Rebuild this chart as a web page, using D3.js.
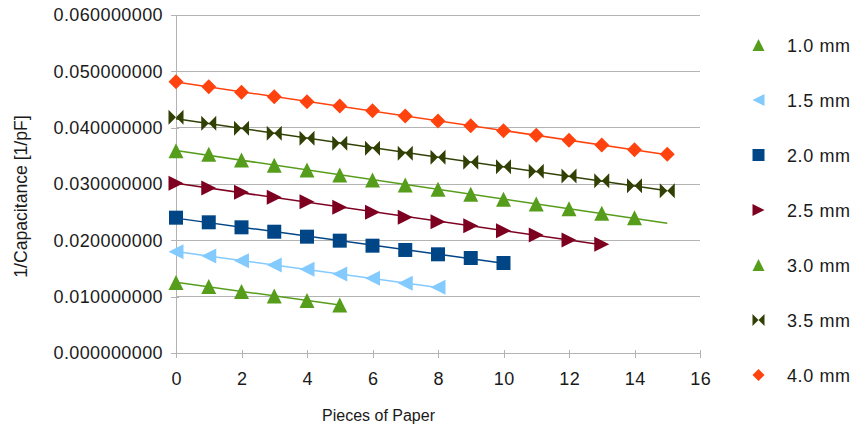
<!DOCTYPE html>
<html>
<head>
<meta charset="utf-8">
<script src="https://cdn.jsdelivr.net/npm/d3@7"></script>
<style>
  html, body { margin: 0; padding: 0; background: #fff; }
  svg { display: block; font-family: "Liberation Sans", Arial, sans-serif; }
</style>
</head>
<body>
<svg id="chart" width="852" height="427"></svg>
<script>
// ---------- data ----------
const seriesNames = ["1.0 mm", "1.5 mm", "2.0 mm", "2.5 mm", "3.0 mm", "3.5 mm", "4.0 mm"];
const seriesColors = ["#579d1c", "#83caff", "#004586", "#7e0021", "#579d1c", "#314004", "#ff420e"];
const seriesMarkers = ["triangleUp", "triangleLeft", "square", "triangleRight", "triangleUp", "bowtie", "diamond"];

const s10 = [0.01252, 0.01181, 0.01092, 0.01012, 0.00932, 0.00852];
const s15 = [0.01798, 0.01722, 0.01639, 0.01562, 0.01486, 0.01402, 0.01326, 0.01238, 0.01166];
const s20 = [0.02402, 0.02320, 0.02231, 0.02153, 0.02065, 0.01994, 0.01905, 0.01829, 0.01752, 0.01686, 0.01598];
const s25 = [0.03012, 0.02929, 0.02852, 0.02763, 0.02687, 0.02587, 0.02499, 0.02410, 0.02332, 0.02260, 0.02172, 0.02095, 0.02006, 0.01930];
const s30 = [0.03591, 0.03527, 0.03426, 0.03332, 0.03249, 0.03160, 0.03071, 0.02982, 0.02906, 0.02817, 0.02729, 0.02645, 0.02562, 0.02481, 0.02402];
const s35 = [0.04183, 0.04077, 0.03988, 0.03900, 0.03811, 0.03722, 0.03633, 0.03545, 0.03473, 0.03385, 0.03307, 0.03225, 0.03142, 0.03059, 0.02970, 0.02881];
const s40 = [0.04816, 0.04728, 0.04628, 0.04550, 0.04461, 0.04385, 0.04301, 0.04207, 0.04118, 0.04035, 0.03946, 0.03864, 0.03776, 0.03692, 0.03609, 0.03527];
const seriesValues = [s10, s15, s20, s25, s30, s35, s40];
// trend line extent (pieces of paper)
const trendEnd = [5, 8, 10, 13, 15, 15, 15];

const xTicks = [0, 2, 4, 6, 8, 10, 12, 14, 16];
const yTicks = [0, 0.01, 0.02, 0.03, 0.04, 0.05, 0.06];
const xTitle = "Pieces of Paper";
const yTitle = "1/Capacitance [1/pF]";

// ---------- layout ----------
const svg = d3.select("#chart");
const plot = { left: 176, right: 700, top: 15, bottom: 353 };
const x = d3.scaleLinear().domain([0, 16]).range([plot.left, plot.right]);
const y = d3.scaleLinear().domain([0, 0.06]).range([plot.bottom, plot.top]);
const gridColor = "#b3b3b3";
const textColor = "#1a1a1a";

// gridlines
svg.append("g").selectAll("line").data(yTicks).join("line")
  .attr("x1", plot.left).attr("x2", plot.right)
  .attr("y1", d => y(d)).attr("y2", d => y(d))
  .attr("stroke", gridColor).attr("stroke-width", 1).attr("shape-rendering", "crispEdges");

// axes
const yAxis = d3.axisLeft(y).tickValues(yTicks).tickSize(5).tickPadding(8).tickFormat(d3.format(".9f"));
const gy = svg.append("g").attr("transform", `translate(${plot.left},0)`).call(yAxis);
const xAxis = d3.axisBottom(x).tickValues(xTicks).tickSize(5).tickPadding(14).tickFormat(d3.format("d"));
const gx = svg.append("g").attr("transform", `translate(0,${plot.bottom})`).call(xAxis);
[gx, gy].forEach(g => {
  g.select(".domain").attr("stroke", gridColor).attr("shape-rendering", "crispEdges");
  g.selectAll(".tick line").attr("stroke", gridColor).attr("shape-rendering", "crispEdges");
  g.selectAll(".tick text").attr("font-family", "Liberation Sans, Arial, sans-serif")
    .attr("font-size", 18).attr("letter-spacing", 0.4).attr("fill", textColor);
});
gx.selectAll(".tick text").attr("dx", 0.2);
// small tick stubs inside the plot
gx.selectAll(".tick").append("line").attr("y1", 0).attr("y2", -3)
  .attr("stroke", gridColor).attr("shape-rendering", "crispEdges");
gy.selectAll(".tick").append("line").attr("x1", 0).attr("x2", 3)
  .attr("stroke", gridColor).attr("shape-rendering", "crispEdges");

// axis titles
svg.append("text").attr("x", 378.5).attr("y", 420.5)
  .attr("text-anchor", "middle").attr("font-size", 16).attr("fill", textColor).text(xTitle);
svg.append("text").attr("transform", `translate(27,196.5) rotate(-90)`)
  .attr("text-anchor", "middle").attr("font-size", 17.6).attr("fill", textColor).text(yTitle);

// marker path generator
function markerPath(type, s) {
  const h = s / 2;
  switch (type) {
    case "triangleUp": return `M0,${-h}L${h},${h}L${-h},${h}Z`;
    case "triangleLeft": return `M${-h},0L${h},${-h}L${h},${h}Z`;
    case "triangleRight": return `M${h},0L${-h},${-h}L${-h},${h}Z`;
    case "square": return `M${-h},${-h}H${h}V${h}H${-h}Z`;
    case "diamond": return `M0,${-h}L${h},0L0,${h}L${-h},0Z`;
    case "bowtie": return `M${-h},${-h}L0,0L${-h},${h}ZM${h},${-h}L0,0L${h},${h}Z`;
  }
}

// linear regression
function fit(vals) {
  const xs = vals.map((_, i) => i);
  const mx = d3.mean(xs), my = d3.mean(vals);
  let sxy = 0, sxx = 0;
  xs.forEach((xi, i) => { sxy += (xi - mx) * (vals[i] - my); sxx += (xi - mx) * (xi - mx); });
  const b = sxy / sxx;
  return { a: my - b * mx, b };
}

const line = d3.line().x(d => x(d[0])).y(d => y(d[1]));

seriesValues.forEach((vals, si) => {
  const g = svg.append("g");
  const f = fit(vals);
  const pts = [[0, f.a], [trendEnd[si], f.a + f.b * trendEnd[si]]];
  g.append("path").attr("d", line(pts)).attr("fill", "none")
    .attr("stroke", seriesColors[si]).attr("stroke-width", 1.5);
  const size = seriesMarkers[si] === "square" ? 14 : 15;
  g.selectAll("path.m").data(vals).join("path").attr("class", "m")
    .attr("transform", (d, i) => `translate(${x(i)},${y(d)})`)
    .attr("d", markerPath(seriesMarkers[si], size))
    .attr("fill", seriesColors[si]);
});

// legend
const legend = svg.append("g");
seriesNames.forEach((name, i) => {
  const cy = 45 + i * 55;
  legend.append("path").attr("transform", `translate(758.5,${cy})`)
    .attr("d", markerPath(seriesMarkers[i], 12)).attr("fill", seriesColors[i]);
  legend.append("text").attr("x", 787).attr("y", cy + 6.5).attr("font-size", 18)
    .attr("letter-spacing", 0.6).attr("fill", textColor).text(name);
});
</script>
</body>
</html>
